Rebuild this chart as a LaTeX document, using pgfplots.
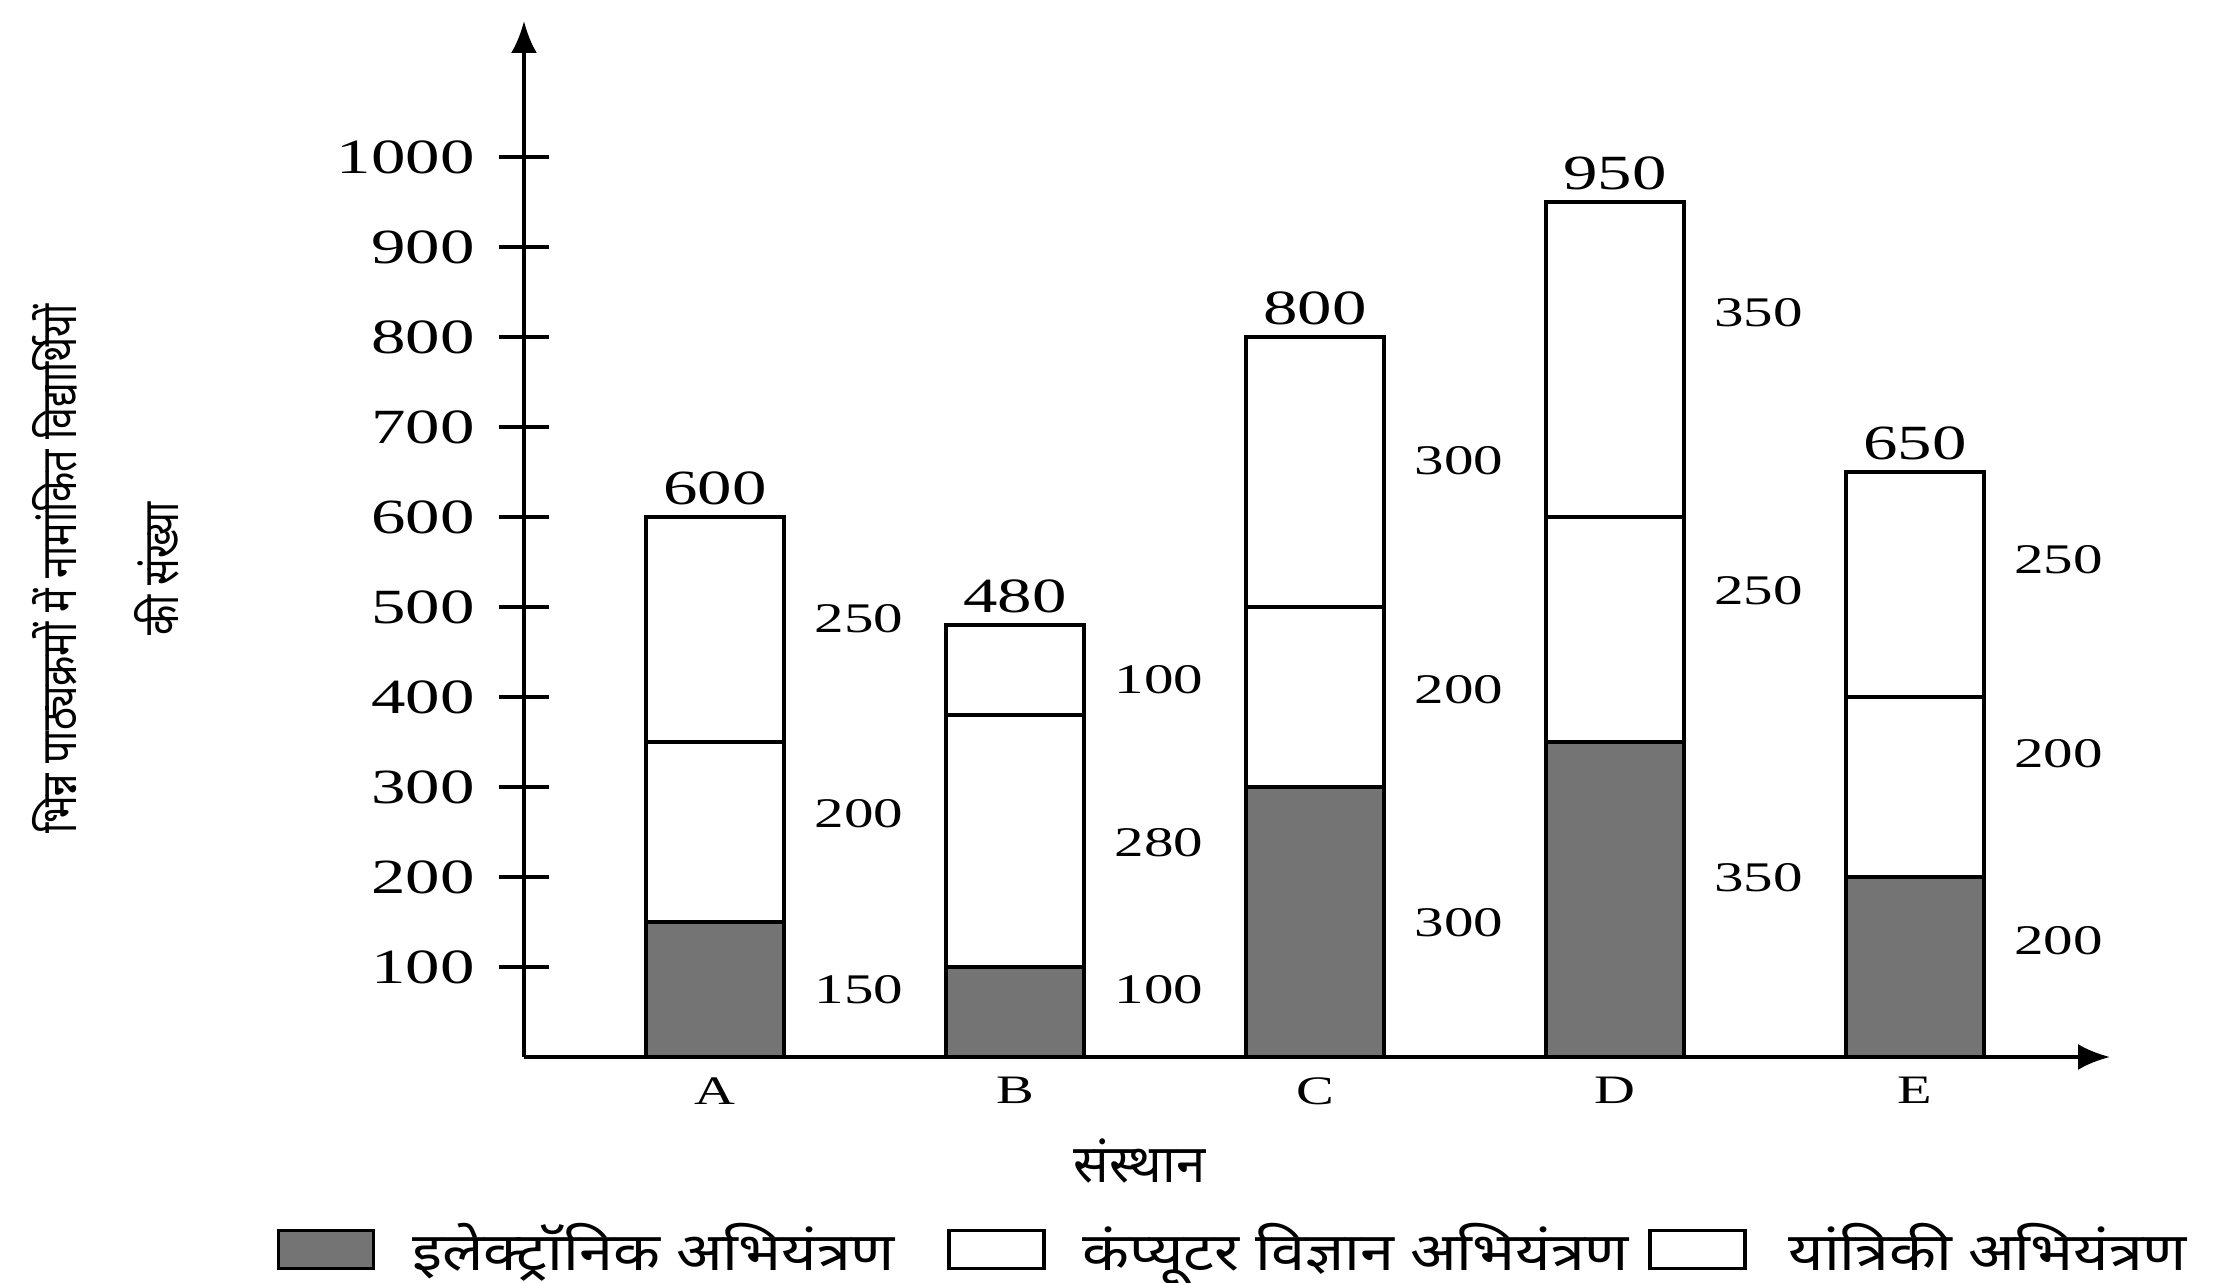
\documentclass[border=0pt]{standalone}
\usepackage{fontspec}
\usepackage{pgfplots}
\usepackage{pgfplotstable}
\pgfplotsset{compat=1.18}
\usetikzlibrary{arrows.meta}
\setmainfont{Liberation Serif}
\newfontfamily\hindi[Script=Devanagari]{Noto Sans}
\newfontfamily\hindiwide[Script=Devanagari,FakeStretch=1.16]{Noto Sans}
\newfontfamily\hindinarrow[Script=Devanagari,FakeStretch=0.8]{Noto Sans}
\newfontfamily\numfont[FakeStretch=1.4]{Liberation Serif}
\definecolor{elec}{HTML}{747474}

% values per institute: electronics, computer science, mechanical
\pgfplotstableread{
x elec comp mech
1 150 200 250
2 100 280 100
3 300 200 300
4 350 250 350
5 200 200 250
}\data

% totals above the bars
\pgfplotstableread{
x y v
1 600 600
2 480 480
3 800 800
4 950 950
5 650 650
}\totals

% segment values, beside each segment (heights as placed in the chart)
\pgfplotstableread{
x y v
1.29 75 150
1.29 270 200
1.29 487 250
2.29 75 100
2.29 238 280
2.29 419 100
3.29 149 300
3.29 408 200
3.29 662 300
4.29 199 350
4.29 518 250
4.29 827 350
5.29 129 200
5.29 337 200
5.29 552 250
}\segs

\pgfplotsset{
  base/.style={
    at={(0,0)}, anchor=south west,
    scale only axis, width=15.86cm, height=10.36cm,
    xmin=0.363, xmax=5.65, ymin=0, ymax=1151,
  },
  boxlegend/.style={legend image code/.code={
    \draw[##1,line width=1pt] (0cm,-0.19cm) rectangle (0.95cm,0.19cm);}},
}

\begin{document}
\begin{tikzpicture}
\path (-5.24,-2.16) rectangle (16.96,10.57);
\begin{axis}[
  base,
  axis lines=left,
  axis line style={line width=1.1pt, -{Latex[length=0.32cm,width=0.26cm]}},
  ybar stacked, bar width=0.46,
  xtick={1,...,5}, xticklabels={A,B,C,D,E},
  x tick style={draw=none},
  ytick={100,200,...,1000},
  tick align=center, major tick length=0.5cm,
  y tick style={line width=1.1pt, black},
  scaled y ticks=false,
  /pgf/number format/1000 sep={},
  /pgf/number format/assume math mode=true,
  yticklabel style={font=\numfont\fontsize{14}{16}\selectfont, xshift=-0.12cm},
  xticklabel style={font=\numfont\fontsize{11.5}{14}\selectfont, yshift=0.17cm},
  xlabel={संस्थान},
  xlabel style={font=\hindi\fontsize{15}{18}\selectfont,
    at={(axis description cs:0.388,-0.100)}, anchor=center},
  ylabel={भिन्न पाठ्यक्रमों में नामांकित विद्यार्थियों\\की संख्या},
  ylabel style={font=\hindinarrow\fontsize{14}{29}\selectfont, align=center,
    at={(axis description cs:-0.2636,0.471)}, anchor=center},
  legend columns=3,
  legend style={at={(axis description cs:-0.156,-0.186)}, anchor=west,
    draw=none, inner sep=0pt, outer sep=0pt,
    font=\hindiwide\fontsize{15}{18}\selectfont,
    /tikz/column 1/.style={column sep=0.3cm},
    /tikz/column 2/.style={column sep=0.45cm},
    /tikz/column 3/.style={column sep=0.3cm},
    /tikz/column 4/.style={column sep=0.12cm},
    /tikz/column 5/.style={column sep=0.35cm}},
]
\addplot[fill=elec, draw=black, line width=1pt, boxlegend] table[x=x,y=elec]{\data};
\addlegendentry{इलेक्ट्रॉनिक अभियंत्रण}
\addplot[fill=white, draw=black, line width=1pt, boxlegend] table[x=x,y=comp]{\data};
\addlegendentry{कंप्यूटर विज्ञान अभियंत्रण}
\addplot[fill=white, draw=black, line width=1pt, boxlegend] table[x=x,y=mech]{\data};
\addlegendentry{यांत्रिकी अभियंत्रण}
\end{axis}
\begin{axis}[base, hide axis, clip=false]
\addplot[draw=none, mark=none, nodes near coords, point meta=explicit symbolic,
  every node near coord/.append style={anchor=south, font=\numfont\fontsize{14}{16}\selectfont}]
  table[x=x,y=y,meta=v]{\totals};
\addplot[draw=none, mark=none, nodes near coords, point meta=explicit symbolic,
  every node near coord/.append style={anchor=west, font=\numfont\fontsize{12}{14}\selectfont}]
  table[x=x,y=y,meta=v]{\segs};
\end{axis}
\end{tikzpicture}
\end{document}
